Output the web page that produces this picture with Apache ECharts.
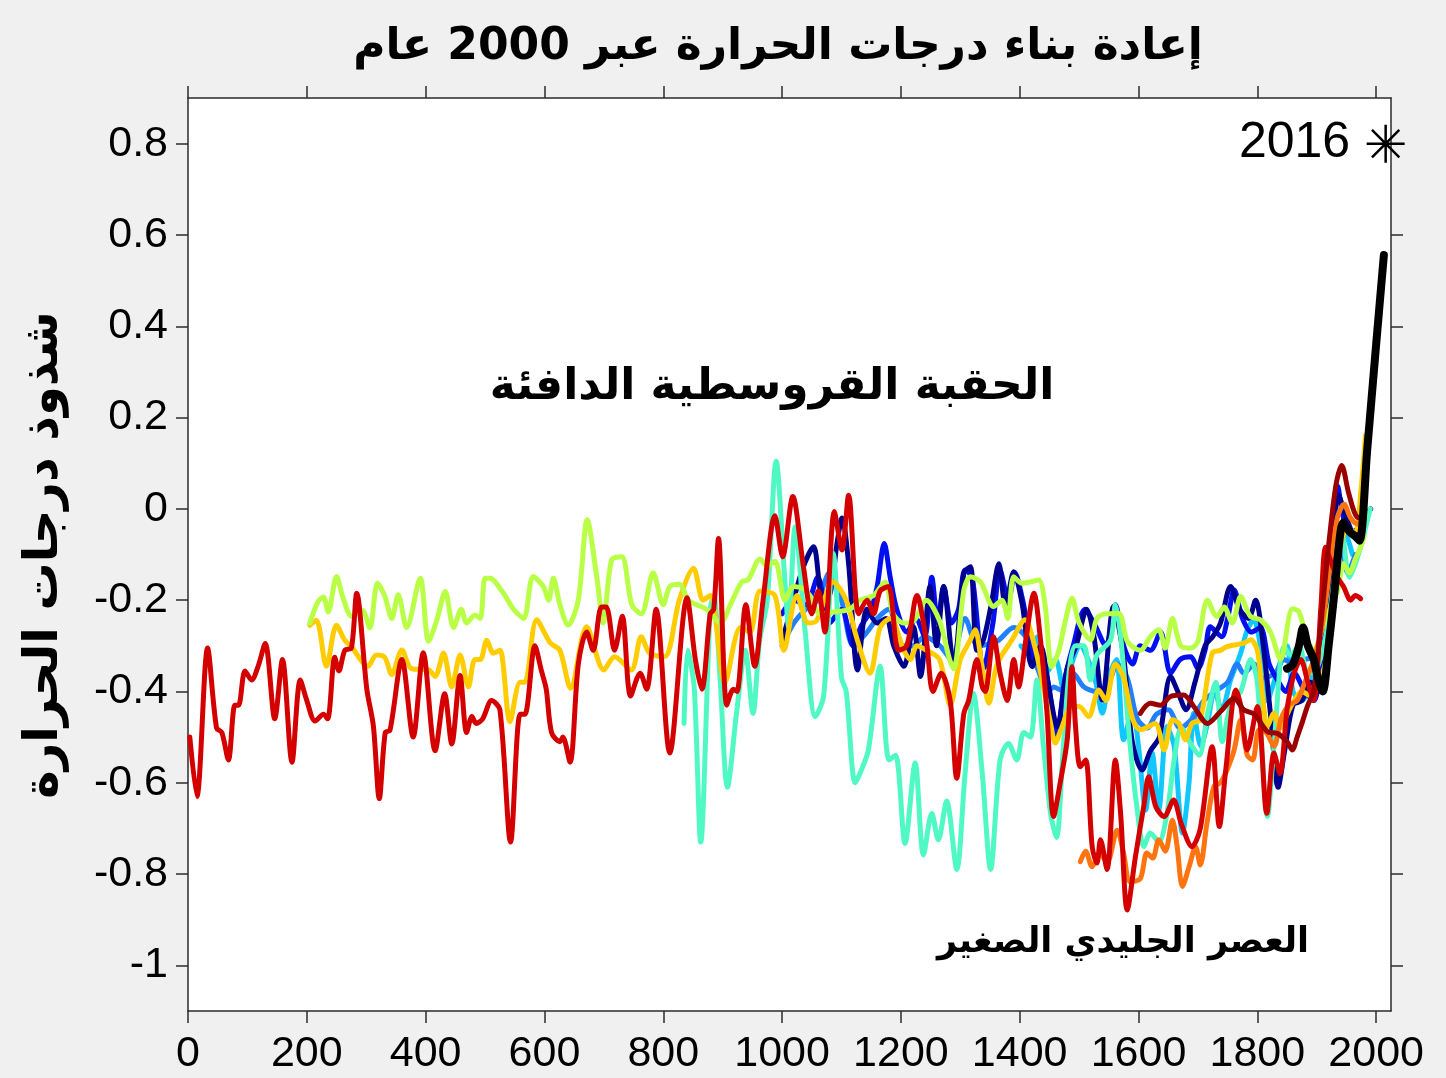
<!DOCTYPE html>
<html>
<head>
<meta charset="utf-8">
<script src="https://cdn.jsdelivr.net/npm/echarts@6/dist/echarts.min.js"></script>
<style>
  html, body { margin: 0; padding: 0; background: #f0f0f0; }
  #main { width: 1446px; height: 1078px; }
</style>
</head>
<body>
<div id="main"></div>
<script>
// tick positions
var xTicks = [0, 200, 400, 600, 800, 1000, 1200, 1400, 1600, 1800, 2000];
var yTicks = [-1, -0.8, -0.6, -0.4, -0.2, 0, 0.2, 0.4, 0.6, 0.8];

// reconstructions, [year, anomaly]
var redLong = [[3,-0.50],[15,-0.63],[33,-0.305],[48,-0.48],[57,-0.49],[68,-0.55],[79,-0.43],[85,-0.43],[96,-0.355],[107,-0.375],[118,-0.345],[130,-0.295],[146,-0.46],[159,-0.33],[175,-0.555],[189,-0.375],[200,-0.42],[214,-0.465],[228,-0.45],[235,-0.46],[247,-0.325],[254,-0.355],[264,-0.31],[275,-0.305],[284,-0.185],[301,-0.395],[312,-0.475],[322,-0.635],[332,-0.49],[340,-0.485],[360,-0.33],[379,-0.50],[396,-0.315],[416,-0.53],[432,-0.405],[444,-0.515],[458,-0.365],[469,-0.49],[478,-0.455],[485,-0.47],[496,-0.46],[511,-0.42],[525,-0.44],[543,-0.73],[559,-0.45],[567,-0.45],[584,-0.30],[595,-0.355],[603,-0.395],[612,-0.49],[626,-0.51],[631,-0.50],[643,-0.555],[657,-0.34],[671,-0.27],[682,-0.31],[696,-0.215],[704,-0.215],[718,-0.31],[731,-0.235],[745,-0.41],[761,-0.36],[772,-0.395],[788,-0.22],[811,-0.535],[840,-0.195],[854,-0.33],[865,-0.395],[879,-0.23],[885,-0.22],[893,-0.065],[907,-0.43],[918,-0.395],[924,-0.40],[939,-0.21],[954,-0.345],[968,-0.20],[988,-0.015],[1001,-0.105],[1018,0.027],[1036,-0.127],[1050,-0.23],[1061,-0.18],[1072,-0.27],[1088,-0.006],[1101,-0.09],[1112,0.03],[1129,-0.23],[1143,-0.20],[1154,-0.23],[1165,-0.18],[1179,-0.17],[1196,-0.31],[1210,-0.30],[1227,-0.19],[1243,-0.29],[1254,-0.40],[1268,-0.36],[1283,-0.42],[1294,-0.59],[1306,-0.448],[1314,-0.42],[1328,-0.33],[1337,-0.39],[1342,-0.40],[1356,-0.28],[1367,-0.36],[1379,-0.42],[1390,-0.33],[1398,-0.39],[1410,-0.29],[1424,-0.185],[1435,-0.287],[1446,-0.448],[1457,-0.674],[1469,-0.594],[1480,-0.506],[1488,-0.346],[1494,-0.477],[1502,-0.565],[1511,-0.55],[1522,-0.74],[1530,-0.776],[1536,-0.725],[1547,-0.79],[1561,-0.55],[1570,-0.67],[1581,-0.879],[1595,-0.76],[1609,-0.65],[1617,-0.587],[1629,-0.652],[1643,-0.674],[1659,-0.638],[1672,-0.69],[1690,-0.74],[1704,-0.70],[1724,-0.521],[1736,-0.696],[1747,-0.57],[1764,-0.397],[1772,-0.43],[1783,-0.528],[1800,-0.433],[1816,-0.667],[1828,-0.535],[1838,-0.58],[1850,-0.44],[1862,-0.36],[1873,-0.33],[1885,-0.38],[1895,-0.42],[1907,-0.215],[1915,-0.084],[1925,-0.12],[1935,-0.15],[1945,-0.17],[1957,-0.2],[1965,-0.19],[1974,-0.197]];

var greenLine = [[205,-0.25],[219,-0.203],[228,-0.193],[236,-0.226],[250,-0.148],[261,-0.195],[276,-0.236],[293,-0.222],[306,-0.261],[319,-0.163],[331,-0.19],[343,-0.24],[354,-0.188],[368,-0.26],[391,-0.152],[405,-0.29],[419,-0.243],[433,-0.181],[447,-0.26],[460,-0.22],[469,-0.25],[483,-0.233],[492,-0.24],[500,-0.152],[508,-0.152],[531,-0.185],[548,-0.22],[565,-0.24],[581,-0.148],[598,-0.17],[607,-0.20],[615,-0.152],[626,-0.21],[640,-0.255],[657,-0.20],[672,-0.024],[688,-0.148],[699,-0.25],[713,-0.112],[730,-0.105],[747,-0.21],[763,-0.23],[783,-0.14],[800,-0.21],[811,-0.17],[827,-0.165],[842,-0.20],[856,-0.21],[873,-0.22],[896,-0.25],[913,-0.21],[932,-0.16],[943,-0.155],[963,-0.11],[975,-0.125],[988,-0.115],[1005,-0.20],[1019,-0.17],[1036,-0.175],[1047,-0.19],[1064,-0.23],[1092,-0.225],[1114,-0.22],[1131,-0.20],[1154,-0.19],[1173,-0.16],[1187,-0.23],[1205,-0.25],[1222,-0.245],[1243,-0.20],[1265,-0.245],[1282,-0.33],[1289,-0.35],[1306,-0.178],[1317,-0.149],[1334,-0.16],[1356,-0.214],[1370,-0.2],[1380,-0.24],[1390,-0.149],[1404,-0.163],[1418,-0.16],[1432,-0.156],[1443,-0.214],[1454,-0.346],[1466,-0.31],[1476,-0.25],[1488,-0.196],[1500,-0.25],[1519,-0.287],[1530,-0.24],[1545,-0.23],[1567,-0.229],[1581,-0.29],[1603,-0.31],[1620,-0.28],[1634,-0.265],[1645,-0.305],[1657,-0.24],[1671,-0.30],[1688,-0.305],[1700,-0.29],[1716,-0.2],[1732,-0.236],[1744,-0.215],[1758,-0.25],[1772,-0.192],[1788,-0.235],[1805,-0.243],[1822,-0.27],[1839,-0.33],[1859,-0.219],[1870,-0.225],[1884,-0.288],[1895,-0.31],[1912,-0.25],[1925,-0.21],[1935,-0.18],[1945,-0.12],[1955,-0.14],[1965,-0.11],[1974,-0.083],[1980,-0.06]];

var goldLine = [[205,-0.255],[216,-0.244],[233,-0.345],[250,-0.255],[264,-0.288],[275,-0.302],[303,-0.345],[317,-0.32],[331,-0.325],[343,-0.363],[360,-0.309],[376,-0.35],[405,-0.353],[416,-0.367],[430,-0.316],[444,-0.39],[458,-0.32],[472,-0.39],[483,-0.33],[492,-0.33],[503,-0.288],[514,-0.316],[525,-0.31],[542,-0.466],[559,-0.38],[567,-0.38],[587,-0.243],[610,-0.294],[626,-0.31],[644,-0.393],[671,-0.258],[700,-0.353],[718,-0.324],[746,-0.353],[763,-0.28],[777,-0.316],[802,-0.324],[827,-0.2],[851,-0.13],[867,-0.2],[879,-0.19],[904,-0.38],[930,-0.26],[946,-0.27],[963,-0.18],[988,-0.19],[1003,-0.31],[1025,-0.19],[1044,-0.25],[1058,-0.245],[1086,-0.16],[1108,-0.20],[1125,-0.28],[1148,-0.36],[1165,-0.26],[1182,-0.24],[1205,-0.31],[1216,-0.33],[1227,-0.30],[1243,-0.31],[1265,-0.33],[1283,-0.43],[1300,-0.33],[1317,-0.287],[1325,-0.265],[1336,-0.34],[1348,-0.426],[1362,-0.34],[1387,-0.287],[1409,-0.243],[1425,-0.3],[1440,-0.39],[1452,-0.47],[1460,-0.513],[1469,-0.485],[1488,-0.433],[1500,-0.433],[1516,-0.455],[1533,-0.397],[1545,-0.42],[1561,-0.34],[1575,-0.37],[1590,-0.46],[1603,-0.484],[1628,-0.47],[1643,-0.528],[1657,-0.462],[1668,-0.47],[1679,-0.506],[1690,-0.47],[1704,-0.462],[1724,-0.316],[1738,-0.31],[1749,-0.302],[1777,-0.294],[1789,-0.287],[1800,-0.31],[1808,-0.397],[1817,-0.477],[1828,-0.448],[1839,-0.48],[1850,-0.45],[1862,-0.42],[1875,-0.40],[1890,-0.41],[1905,-0.38],[1920,-0.30],[1935,-0.12],[1950,-0.05],[1965,-0.05],[1975,0.05],[1982,0.16]];

var aquaLine = [[835,-0.47],[841,-0.31],[852,-0.39],[863,-0.73],[879,-0.22],[885,-0.19],[896,-0.38],[908,-0.61],[924,-0.44],[938,-0.31],[951,-0.448],[962,-0.29],[975,-0.2],[990,0.104],[1005,-0.163],[1011,-0.26],[1022,-0.039],[1039,-0.27],[1056,-0.455],[1070,-0.41],[1086,-0.097],[1100,-0.37],[1108,-0.40],[1123,-0.60],[1131,-0.58],[1145,-0.53],[1165,-0.345],[1180,-0.55],[1191,-0.54],[1207,-0.733],[1224,-0.557],[1238,-0.758],[1252,-0.667],[1263,-0.725],[1277,-0.64],[1294,-0.79],[1308,-0.58],[1322,-0.404],[1337,-0.58],[1351,-0.79],[1367,-0.55],[1381,-0.514],[1395,-0.55],[1407,-0.49],[1418,-0.50],[1429,-0.375],[1440,-0.52],[1452,-0.667],[1462,-0.72],[1472,-0.55],[1483,-0.36],[1494,-0.30],[1508,-0.30],[1519,-0.375],[1530,-0.32],[1553,-0.287],[1561,-0.21],[1570,-0.28],[1586,-0.52],[1597,-0.65],[1609,-0.74],[1620,-0.71],[1634,-0.73],[1648,-0.667],[1660,-0.55],[1672,-0.48],[1690,-0.52],[1702,-0.54],[1716,-0.45],[1730,-0.38],[1741,-0.51],[1755,-0.43],[1772,-0.40],[1789,-0.33],[1800,-0.38],[1817,-0.674],[1828,-0.52],[1845,-0.302],[1856,-0.32],[1870,-0.30],[1885,-0.36],[1900,-0.35],[1915,-0.28],[1930,-0.15],[1942,-0.05],[1955,-0.15],[1970,-0.10],[1990,0.0]];

var cyanLine = [[1402,-0.30],[1418,-0.32],[1430,-0.28],[1445,-0.36],[1460,-0.33],[1475,-0.40],[1490,-0.33],[1502,-0.30],[1515,-0.33],[1528,-0.38],[1539,-0.448],[1552,-0.36],[1563,-0.33],[1575,-0.506],[1590,-0.44],[1600,-0.52],[1612,-0.66],[1623,-0.535],[1634,-0.66],[1648,-0.477],[1660,-0.52],[1674,-0.71],[1685,-0.60],[1693,-0.448],[1705,-0.52],[1716,-0.47],[1728,-0.40],[1740,-0.44],[1755,-0.375],[1772,-0.316],[1783,-0.265],[1794,-0.243],[1805,-0.30],[1817,-0.42],[1828,-0.38],[1840,-0.33],[1850,-0.30],[1860,-0.40],[1875,-0.42],[1890,-0.38],[1905,-0.30],[1920,-0.20],[1935,-0.06],[1945,-0.05],[1960,-0.10]];

var navyLine = [[1000,-0.29],[1015,-0.22],[1035,-0.13],[1053,-0.083],[1068,-0.19],[1081,-0.185],[1092,-0.08],[1101,-0.02],[1112,-0.12],[1127,-0.353],[1143,-0.22],[1160,-0.25],[1175,-0.24],[1188,-0.30],[1205,-0.345],[1221,-0.258],[1233,-0.367],[1249,-0.17],[1260,-0.30],[1272,-0.17],[1289,-0.345],[1306,-0.141],[1317,-0.127],[1328,-0.31],[1339,-0.287],[1352,-0.21],[1365,-0.12],[1376,-0.214],[1390,-0.138],[1404,-0.207],[1421,-0.346],[1435,-0.30],[1450,-0.40],[1463,-0.477],[1480,-0.35],[1495,-0.30],[1513,-0.22],[1525,-0.28],[1539,-0.419],[1558,-0.214],[1575,-0.324],[1589,-0.506],[1606,-0.572],[1620,-0.53],[1635,-0.50],[1654,-0.367],[1666,-0.40],[1680,-0.44],[1695,-0.38],[1712,-0.30],[1725,-0.28],[1738,-0.25],[1755,-0.17],[1770,-0.22],[1785,-0.24],[1797,-0.20],[1810,-0.30],[1822,-0.448],[1835,-0.61],[1846,-0.53],[1860,-0.43],[1875,-0.42],[1890,-0.38],[1905,-0.40],[1920,-0.20],[1937,0.03],[1950,-0.02],[1965,-0.06],[1980,-0.02],[1991,0.0]];

var blueLine = [[1000,-0.23],[1020,-0.20],[1040,-0.21],[1060,-0.15],[1080,-0.25],[1100,-0.22],[1120,-0.30],[1132,-0.26],[1150,-0.22],[1160,-0.17],[1172,-0.076],[1182,-0.15],[1193,-0.22],[1210,-0.27],[1225,-0.24],[1240,-0.28],[1252,-0.15],[1262,-0.25],[1272,-0.17],[1285,-0.25],[1297,-0.22],[1308,-0.134],[1320,-0.15],[1339,-0.35],[1355,-0.25],[1367,-0.134],[1381,-0.20],[1392,-0.14],[1405,-0.20],[1425,-0.33],[1443,-0.35],[1463,-0.50],[1475,-0.38],[1490,-0.30],[1510,-0.22],[1525,-0.25],[1545,-0.30],[1561,-0.21],[1575,-0.30],[1590,-0.34],[1603,-0.30],[1620,-0.31],[1637,-0.27],[1654,-0.36],[1670,-0.33],[1688,-0.324],[1700,-0.35],[1712,-0.31],[1721,-0.258],[1740,-0.28],[1750,-0.24],[1761,-0.178],[1775,-0.24],[1790,-0.27],[1805,-0.26],[1820,-0.34],[1836,-0.38],[1848,-0.40],[1862,-0.36],[1880,-0.40],[1895,-0.42],[1910,-0.30],[1925,-0.05],[1935,0.05],[1945,-0.02],[1960,-0.05],[1980,-0.03]];

var skyLine = [[1000,-0.30],[1020,-0.25],[1040,-0.22],[1060,-0.20],[1080,-0.14],[1100,-0.20],[1120,-0.30],[1143,-0.27],[1160,-0.24],[1180,-0.22],[1200,-0.30],[1220,-0.30],[1240,-0.28],[1266,-0.30],[1285,-0.33],[1308,-0.24],[1330,-0.30],[1362,-0.29],[1390,-0.26],[1410,-0.28],[1430,-0.35],[1449,-0.40],[1457,-0.39],[1474,-0.40],[1490,-0.36],[1508,-0.39],[1530,-0.40],[1550,-0.38],[1564,-0.34],[1581,-0.37],[1598,-0.46],[1615,-0.48],[1630,-0.45],[1650,-0.44],[1670,-0.48],[1690,-0.46],[1710,-0.42],[1732,-0.397],[1750,-0.38],[1766,-0.34],[1777,-0.36],[1795,-0.34],[1810,-0.37],[1830,-0.36],[1845,-0.33],[1860,-0.34],[1880,-0.33],[1900,-0.32],[1920,-0.22],[1940,-0.06],[1952,-0.14],[1965,-0.10]];

var orangeLine = [[1502,-0.773],[1511,-0.75],[1522,-0.784],[1535,-0.755],[1547,-0.775],[1564,-0.704],[1575,-0.755],[1586,-0.817],[1603,-0.81],[1614,-0.754],[1624,-0.765],[1634,-0.725],[1645,-0.75],[1657,-0.682],[1665,-0.74],[1674,-0.827],[1686,-0.78],[1696,-0.74],[1704,-0.78],[1715,-0.69],[1727,-0.608],[1738,-0.6],[1749,-0.572],[1761,-0.528],[1772,-0.462],[1783,-0.54],[1792,-0.55],[1803,-0.484],[1815,-0.49],[1828,-0.52],[1840,-0.46],[1853,-0.43],[1867,-0.42],[1880,-0.38],[1895,-0.33],[1910,-0.25],[1925,-0.10],[1935,-0.018],[1946,0.01],[1957,-0.02],[1968,-0.033],[1980,-0.01]];

var maroonLine = [[1603,-0.448],[1620,-0.426],[1637,-0.43],[1654,-0.411],[1676,-0.408],[1693,-0.433],[1716,-0.47],[1738,-0.444],[1761,-0.415],[1777,-0.44],[1795,-0.45],[1817,-0.488],[1834,-0.492],[1850,-0.51],[1859,-0.528],[1867,-0.50],[1875,-0.47],[1885,-0.43],[1895,-0.40],[1905,-0.28],[1918,-0.105],[1932,0.05],[1942,0.095],[1954,0.033],[1968,-0.018],[1980,-0.02]];

// instrumental record
var instrumental = [[1850,-0.35],[1860,-0.34],[1870,-0.30],[1877,-0.26],[1885,-0.30],[1895,-0.33],[1900,-0.36],[1910,-0.40],[1920,-0.30],[1930,-0.18],[1940,-0.05],[1945,-0.03],[1955,-0.05],[1965,-0.06],[1972,-0.07],[1985,0.13],[2000,0.36],[2013,0.556]];
var year2016 = [[2016, 0.8]];

var chart = echarts.init(document.getElementById('main'));

function recon(data, color, w) {
  return {
    type: 'line',
    data: data,
    showSymbol: false,
    smooth: 0.3,
    lineStyle: { color: color, width: w || 5, cap: 'round', join: 'round' },
    silent: true
  };
}

var axisCol = '#2b2b2b';
var tickFont = { fontSize: 43, fontFamily: 'Liberation Sans, Arial', color: '#000' };
var arabic = 'DejaVu Sans';

var option = {
  backgroundColor: '#f0f0f0',
  animation: false,
  grid: { left: 188, right: 55, top: 98, bottom: 67, show: true, backgroundColor: '#fff', borderWidth: 0 },
  xAxis: [
    {
      type: 'value', min: 0, max: 2025, position: 'bottom',
      axisLine: { show: true, onZero: false, lineStyle: { color: axisCol, width: 1.5 } },
      axisTick: { show: true, length: 12, customValues: xTicks, lineStyle: { color: axisCol, width: 1.5 } },
      axisLabel: Object.assign({
        customValues: xTicks, margin: 22,
        formatter: function (v) { return String(v); }
      }, tickFont),
      splitLine: { show: false }
    },
    {
      type: 'value', min: 0, max: 2025, position: 'top',
      axisLine: { show: true, onZero: false, lineStyle: { color: axisCol, width: 1.5 } },
      axisTick: { show: true, length: 12, customValues: xTicks, lineStyle: { color: axisCol, width: 1.5 } },
      axisLabel: { show: false },
      splitLine: { show: false }
    }
  ],
  yAxis: [
    {
      type: 'value', min: -1.1, max: 0.9, position: 'left',
      axisLine: { show: true, onZero: false, lineStyle: { color: axisCol, width: 1.5 } },
      axisTick: { show: true, length: 12, customValues: yTicks, lineStyle: { color: axisCol, width: 1.5 } },
      axisLabel: Object.assign({
        customValues: yTicks, margin: 20,
        formatter: function (v) { return String(Math.round(v * 10) / 10); }
      }, tickFont),
      splitLine: { show: false }
    },
    {
      type: 'value', min: -1.1, max: 0.9, position: 'right',
      axisLine: { show: true, onZero: false, lineStyle: { color: axisCol, width: 1.5 } },
      axisTick: { show: true, length: 12, customValues: yTicks, lineStyle: { color: axisCol, width: 1.5 } },
      axisLabel: { show: false },
      splitLine: { show: false }
    }
  ],
  series: [
    recon(cyanLine, '#10c8ff'),
    recon(skyLine, '#2080ff'),
    recon(blueLine, '#0010f0'),
    recon(navyLine, '#00008f'),
    recon(aquaLine, '#50f8c4'),
    recon(goldLine, '#ffcc00'),
    recon(greenLine, '#b8ff45'),
    recon(orangeLine, '#ff7410'),
    recon(redLong, '#d40000'),
    recon(maroonLine, '#9b0000'),
    recon(instrumental, '#000', 8),
    {
      type: 'scatter',
      data: year2016,
      symbol: 'path://M0,-1L0,1M-1,0L1,0M-0.72,-0.72L0.72,0.72M-0.72,0.72L0.72,-0.72',
      symbolSize: 38,
      clip: false,
      itemStyle: { color: 'none', borderColor: '#000', borderWidth: 2.5, opacity: 1 },
      label: {
        show: true, position: 'left', distance: 14,
        formatter: '2016', fontSize: 50, fontFamily: 'Liberation Sans, Arial', color: '#000'
      },
      silent: true
    }
  ],
  graphic: [
    {
      type: 'text', x: 778, y: 48,
      style: { text: 'إعادة بناء درجات الحرارة عبر 2000 عام', fontSize: 44, fontWeight: 'bold', fontFamily: arabic, fill: '#000', align: 'center', verticalAlign: 'middle' }
    },
    {
      type: 'text', x: 45, y: 555, rotation: Math.PI / 2,
      style: { text: 'شذوذ درجات الحرارة', fontSize: 48, fontWeight: 'bold', fontFamily: arabic, fill: '#000', align: 'center', verticalAlign: 'middle' }
    },
    {
      type: 'text', x: 772, y: 388,
      style: { text: 'الحقبة القروسطية الدافئة', fontSize: 44, fontWeight: 'bold', fontFamily: arabic, fill: '#000', align: 'center', verticalAlign: 'middle' }
    },
    {
      type: 'text', x: 1123, y: 943,
      style: { text: 'العصر الجليدي الصغير', fontSize: 35, fontWeight: 'bold', fontFamily: arabic, fill: '#000', align: 'center', verticalAlign: 'middle' }
    }
  ]
};

chart.setOption(option);
</script>
</body>
</html>
